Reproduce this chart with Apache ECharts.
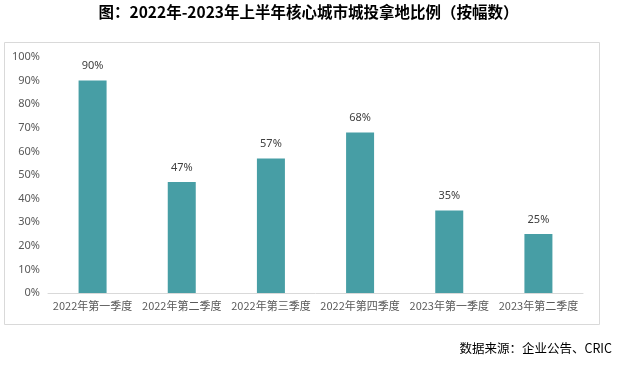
<!DOCTYPE html>
<html><head><meta charset="utf-8">
<script src="https://cdn.jsdelivr.net/npm/echarts@6/dist/echarts.min.js"></script>
<style>html,body{margin:0;padding:0;background:#fff}#c{width:617px;height:365px}</style>
</head><body><div id="c"></div>
<script>
var titleText = '图：2022年-2023年上半年核心城市城投拿地比例（按幅数）';
var sourceText = '数据来源：企业公告、CRIC';
var categories = ['2022年第一季度','2022年第二季度','2022年第三季度','2022年第四季度','2023年第一季度','2023年第二季度'];
var values = [90, 47, 57, 68, 35, 25];
var yTicks = [0, 10, 20, 30, 40, 50, 60, 70, 80, 90, 100];

var chart = echarts.init(document.getElementById('c'), null, {renderer:'canvas'});
chart.setOption({
  backgroundColor:'#fff',
  animation:false,
  graphic:[
    {type:'rect', shape:{x:4.5,y:42.5,width:595,height:282}, style:{fill:'none',stroke:'#D9D9D9',lineWidth:1}, z:-1},
    {type:'text', left:'center', top:4, style:{text:titleText, font:'bold 15.5px "Noto Sans CJK SC"', fill:'#000'}},
    {type:'text', right:5, top:342, style:{text:sourceText, font:'12.5px "Noto Sans CJK SC"', fill:'#000'}}
  ],
  grid:{left:48, right:34, top:57, bottom:72},
  xAxis:{
    type:'category', data:categories,
    axisLine:{lineStyle:{color:'#D9D9D9'}},
    axisTick:{show:false},
    axisLabel:{color:'#595959', fontSize:11, fontFamily:'"Noto Sans CJK SC"', margin:7, interval:0}
  },
  yAxis:{
    type:'value', min:0, max:100, interval:10,
    axisLine:{show:false}, axisTick:{show:false},
    splitLine:{show:false},
    axisLabel:{color:'#595959', fontSize:11, fontFamily:'"Noto Sans", sans-serif', margin:8,
      formatter:function(v){return v+'%';}}
  },
  series:[{
    type:'bar', data:values, barWidth:28,
    itemStyle:{color:'#479EA5'},
    label:{show:true, position:'top', distance:9, color:'#404040', fontSize:11,
      fontFamily:'"Noto Sans", sans-serif', formatter:function(p){return p.value+'%';}}
  }]
});
</script></body></html>
